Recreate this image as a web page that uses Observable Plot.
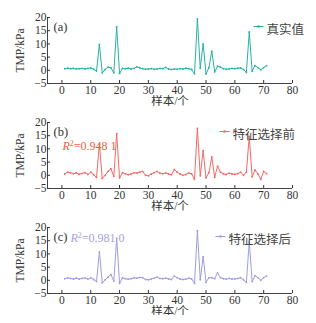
<!DOCTYPE html>
<html><head><meta charset="utf-8">
<script src="https://cdn.jsdelivr.net/npm/d3@7"></script>
<script src="https://cdn.jsdelivr.net/npm/@observablehq/plot@0.6"></script>
<style>
body{margin:0;background:#fff;}
#c{width:316px;}
#c svg{display:block;overflow:visible;}
</style></head><body><div id="c"></div>
<script>
const samples = d3.range(1, 72);
const actual = [0.6,0.8,0.6,0.7,0.5,0.6,0.7,0.5,0.7,0.9,0.4,-0.3,9.8,-1.0,0.3,1.2,1.0,-1.0,16.5,-1.2,
0.7,0.6,0.8,0.5,0.7,1.3,0.9,0.6,0.4,0.5,0.6,0.4,0.5,0.7,0.6,1.1,0.5,0.3,0.5,0.4,
0.6,0.5,0.8,0.6,0.3,-1.3,19.5,0.8,10.0,-1.4,1.0,7.3,-0.6,1.6,1.2,0.6,0.4,0.5,0.7,0.6,
0.8,0.9,0.3,-0.8,14.5,-0.4,1.8,1.0,0.2,1.0,1.8];
const before = [0.5,1.2,1.0,0.6,0.9,0.4,0.7,1.0,0.3,1.2,0.2,-0.8,11.8,-1.2,0.0,1.5,2.5,-0.4,15.8,-1.0,
1.0,0.6,0.2,0.5,1.0,0.8,1.2,1.5,0.0,-0.2,0.5,1.0,1.5,0.8,0.6,0.9,0.5,0.2,2.2,1.2,
0.5,0.0,0.3,0.9,0.5,-1.5,17.8,-0.2,9.3,-1.0,1.0,7.0,-0.8,3.5,1.2,0.6,0.3,0.8,0.5,0.4,
0.6,1.2,0.0,1.2,14.7,-0.6,2.0,0.5,-1.5,1.5,0.6];
const after = [0.6,0.9,0.7,0.5,0.8,0.5,0.7,0.9,0.4,1.0,0.3,-0.5,10.8,-1.0,0.2,1.2,2.2,-0.3,16.0,-1.2,
0.9,0.6,0.4,0.6,0.9,0.8,1.1,1.0,0.3,0.2,0.5,0.8,1.2,0.7,0.6,0.8,0.5,0.3,1.6,1.0,
0.5,0.3,0.4,0.8,0.5,-1.2,18.8,0.2,9.0,-0.8,1.0,1.0,0.6,2.8,1.0,0.6,0.4,0.7,0.5,0.5,
0.7,1.0,0.2,-0.8,14.7,-0.5,1.8,1.0,0.0,1.0,1.6];
const xTicks = [0,10,20,30,40,50,60,70,80];
const yTicks = [-5,0,5,10,15,20];
const panelLabels = ["(a)","(b)","(c)"];
const seriesNames = ["真实值","特征选择前","特征选择后"];
const r2Labels = [null, "0.948 1", "0.981 0"];
const colors = ["#26b3a6","#f26a66","#9d9ee0"];
const r2Colors = [null, "#f0603a", "#a3a3dc"];
const legendX = [253, 219, 215];
const r2X = [0, 62, 70];
const r2Y = [0, 18.5, 6];
const allSeries = [actual, before, after];
const font = "'Liberation Serif','Noto Sans CJK SC',serif";

const root = document.getElementById("c");
allSeries.forEach((vals, i) => {
  const data = samples.map((s, k) => ({x: s, y: vals[k]}));
  const marks = [
    Plot.ruleX([-5], {stroke: "#444", strokeWidth: 1}),
    Plot.ruleY([-5], {stroke: "#444", strokeWidth: 1}),
    Plot.axisX({ticks: xTicks, tickSize: -3, tickPadding: 5, label: "样本/个", labelAnchor: "center", labelArrow: "none", labelOffset: 21, fontSize: 11.5, fontFamily: font, fill: "#333"}),
    Plot.axisY({ticks: yTicks, tickSize: -3, tickPadding: 4, label: "TMP/kPa", labelAnchor: "center", labelArrow: "none", labelOffset: 32, fontSize: 11.5, fontFamily: font, fill: "#333"}),
    Plot.line(data, {x: "x", y: "y", stroke: colors[i], strokeWidth: 1}),
    Plot.dot(data, {x: "x", y: "y", fill: colors[i], r: 0.9}),
    Plot.text([panelLabels[i]], {text: d => d, frameAnchor: "top-left", textAnchor: "start", dx: 6, dy: 4.5, fontSize: 12.5, fontFamily: font, fill: "#333"}),
    Plot.text([seriesNames[i]], {text: d => d, frameAnchor: "top-left", textAnchor: "start", dx: legendX[i] + 13 - 47, dy: 8, fontSize: 12.5, fontFamily: font, fill: "#444"}),
    // legend swatch: short line with a marker
    Plot.dot([0], {
      frameAnchor: "top-left", dx: legendX[i] - 47 + 5, dy: 9, r: 1.3, fill: colors[i],
      render: (index, scales, values, dims, ctx, next) => {
        const g = next(index, scales, values, dims, ctx);
        const c = d3.select(g).select("circle");
        const cx = +c.attr("cx") || 0, cy = +c.attr("cy") || 0;
        d3.select(g).insert("line", ":first-child")
          .attr("x1", cx - 5).attr("x2", cx + 5).attr("y1", cy).attr("y2", cy)
          .attr("stroke", colors[i]).attr("stroke-width", 1);
        return g;
      }
    })
  ];
  if (r2Labels[i]) {
    marks.push(Plot.text([r2Labels[i]], {
      text: d => d, frameAnchor: "top-left", textAnchor: "start",
      dx: r2X[i] - 47, dy: r2Y[i], fontSize: 12, fontFamily: font, fill: r2Colors[i],
      render: (index, scales, values, dims, ctx, next) => {
        const g = next(index, scales, values, dims, ctx);
        d3.select(g).selectAll("text").each(function() {
          const t = d3.select(this); const v = t.text(); t.text(null);
          t.append("tspan").attr("font-style", "italic").text("R");
          t.append("tspan").attr("font-size", 8).attr("dy", "-0.5em").text("2");
          t.append("tspan").attr("dy", "0.35em").text("=" + v);
        });
        return g;
      }
    }));
  }
  const chart = Plot.plot({
    width: 316, height: 105,
    marginLeft: 47, marginRight: 24, marginTop: 17, marginBottom: 22,
    style: {fontFamily: font, color: "#333", background: "transparent"},
    x: {domain: [-5, 80]},
    y: {domain: [-5, 20]},
    marks
  });
  root.appendChild(chart);
});
</script></body></html>
